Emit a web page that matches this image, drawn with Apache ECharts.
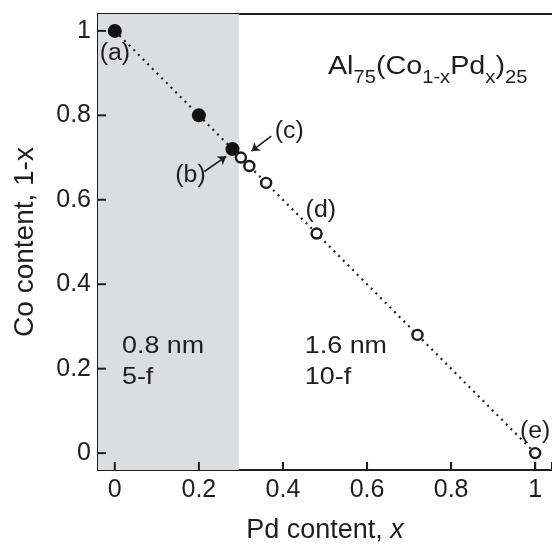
<!DOCTYPE html>
<html><head><meta charset="utf-8">
<script src="https://cdn.jsdelivr.net/npm/echarts@6/dist/echarts.min.js"></script>
<style>html,body{margin:0;padding:0;background:#fff}#c{width:552px;height:549px}</style>
</head><body><div id="c"></div>
<script>
// ---- data ----
const filledX = [0, 0.2, 0.28];
const filledY = [1, 0.8, 0.72];
const openX = [0.30, 0.32, 0.36, 0.48, 0.72, 1.0];
const openY = [0.70, 0.68, 0.64, 0.52, 0.28, 0];
const guideX = [0, 1];
const guideY = [1, 0];
const xTicks = [0, 0.2, 0.4, 0.6, 0.8, 1];
const yTicks = [0, 0.2, 0.4, 0.6, 0.8, 1];
const shadeRange = [-0.04, 0.295];
const pointLabels = ['(a)', '(b)', '(c)', '(d)', '(e)'];
const regionLeft = ['0.8 nm', '5-f'];
const regionRight = ['1.6 nm', '10-f'];
const formulaParts = [['Al','m'],['75','s'],['(Co','m'],['1-x','s'],['Pd','m'],['x','s'],[')','m'],['25','s']];

// ---- annotation anchors (data space) ----
const labelAnchors = [[0, 0.945], [0.18, 0.656], [0.415, 0.762], [0.49, 0.575], [1.0, 0.05]];
const arrowB = [[0.213, 0.667], [0.265, 0.703]];
const arrowC = [[0.372, 0.751], [0.325, 0.715]];
const leftTextAnchor = [0.017, 0.233];
const rightTextAnchor = [0.452, 0.233];
const formulaAnchor = [0.507, 0.893];

const FONT = '"Liberation Sans", Arial, Helvetica, sans-serif';
const INK = '#1e1e1e';
const zip = (xs, ys) => xs.map((x, i) => [x, ys[i]]);

const chart = echarts.init(document.getElementById('c'));
const xRange = {min: -0.04, max: 1.04};
const yRange = {min: -0.04, max: 1.04};
const TICK_LEN = 8;

chart.setOption({
  animation: false,
  grid: {left: 98, right: -2, top: 14, bottom: 78},
  xAxis: [{
    type: 'value', min: xRange.min, max: xRange.max, position: 'bottom', splitNumber: 5,
    axisLine: {show: true, onZero: false, lineStyle: {color: INK, width: 2}},
    axisTick: {show: true, inside: true, length: TICK_LEN, lineStyle: {color: INK, width: 2}},
    axisLabel: {customValues: xTicks, formatter: v => String(v), fontSize: 25, fontFamily: FONT, color: INK, margin: 8},
    splitLine: {show: false},
    name: 'Pd content, {i|x}', nameLocation: 'middle', nameGap: 47,
    nameTextStyle: {fontSize: 27, fontFamily: FONT, color: INK,
      rich: {i: {fontStyle: 'italic', fontSize: 27, fontFamily: FONT, color: INK}}}
  }, {
    type: 'value', min: xRange.min, max: xRange.max, position: 'top',
    axisLine: {show: true, onZero: false, lineStyle: {color: INK, width: 2}},
    axisTick: {show: false}, axisLabel: {show: false}, splitLine: {show: false}
  }],
  yAxis: [{
    type: 'value', min: yRange.min, max: yRange.max, position: 'left', splitNumber: 5,
    axisLine: {show: true, onZero: false, lineStyle: {color: INK, width: 2}},
    axisTick: {show: true, inside: true, length: TICK_LEN, lineStyle: {color: INK, width: 2}},
    axisLabel: {customValues: yTicks, formatter: v => String(v), fontSize: 25, fontFamily: FONT, color: INK, margin: 7},
    splitLine: {show: false},
    name: 'Co content, 1-x', nameLocation: 'middle', nameGap: 59,
    nameTextStyle: {fontSize: 28, fontFamily: FONT, color: INK}
  }],
  series: [{
    type: 'line', data: [], z: 1,
    markArea: {silent: true, itemStyle: {color: '#dcdde0'},
      data: [[{xAxis: shadeRange[0]}, {xAxis: shadeRange[1]}]]}
  }, {
    type: 'line', data: zip(guideX, guideY), symbol: 'none', z: 2, silent: true,
    lineStyle: {color: '#1e1e1e', width: 2.2, type: [2, 4.6]}
  }, {
    type: 'scatter', data: zip(filledX, filledY), symbol: 'circle', symbolSize: 14, z: 4,
    itemStyle: {color: '#111', opacity: 1},
    markLine: {silent: true, symbol: ['none', 'arrow'], symbolSize: 8,
      lineStyle: {color: INK, width: 1.6, type: 'solid'}, label: {show: false},
      data: [[{coord: arrowB[0]}, {coord: arrowB[1]}], [{coord: arrowC[0]}, {coord: arrowC[1]}]]}
  }, {
    type: 'scatter', data: zip(openX, openY), symbol: 'circle', symbolSize: 10, z: 4,
    itemStyle: {color: '#fff', borderColor: '#1a1a1a', borderWidth: 2.4, opacity: 1}
  }]
});

const P = d => chart.convertToPixel({gridIndex: 0}, d);
const ctx = document.createElement('canvas').getContext('2d');
const SX = 1.12;
const graphics = [];
function txt(x, y, text, size, align, sx) {
  graphics.push({type: 'text', x, y, scaleX: sx, z: 10,
    style: {text, fontSize: size, fontFamily: FONT, fill: INK, align, verticalAlign: 'middle'}});
}
// inward ticks placed through the axis scales (reinforces axisTick)
const origin = P([xRange.min, yRange.min]);
xTicks.forEach(v => { const px = P([v, yRange.min])[0];
  graphics.push({type: 'line', z: 9, shape: {x1: px, y1: origin[1], x2: px, y2: origin[1] - TICK_LEN},
    style: {stroke: INK, lineWidth: 2}}); });
yTicks.forEach(v => { const py = P([xRange.min, v])[1];
  graphics.push({type: 'line', z: 9, shape: {x1: origin[0], y1: py, x2: origin[0] + TICK_LEN, y2: py},
    style: {stroke: INK, lineWidth: 2}}); });

pointLabels.forEach((t, i) => { const p = P(labelAnchors[i]); txt(p[0], p[1], t, 23, 'center', 1.08); });
[[leftTextAnchor, regionLeft], [rightTextAnchor, regionRight]].forEach(([a, lines]) => {
  const p = P(a);
  lines.forEach((t, k) => txt(p[0], p[1] + k * 31 - 0.35 * 24, t, 24, 'left', SX));
});
// formula with subscripts
(function () {
  const p = P(formulaAnchor);
  const FSX = 1.15;
  let x = p[0];
  formulaParts.forEach(([t, kind]) => {
    const size = kind === 'm' ? 25 : 17.5;
    const base = kind === 'm' ? p[1] : p[1] + 8;
    ctx.font = size + 'px ' + FONT;
    txt(x, base - 0.35 * size, t, size, 'left', FSX);
    x += ctx.measureText(t).width * FSX;
  });
})();
chart.setOption({graphic: graphics});
</script></body></html>
